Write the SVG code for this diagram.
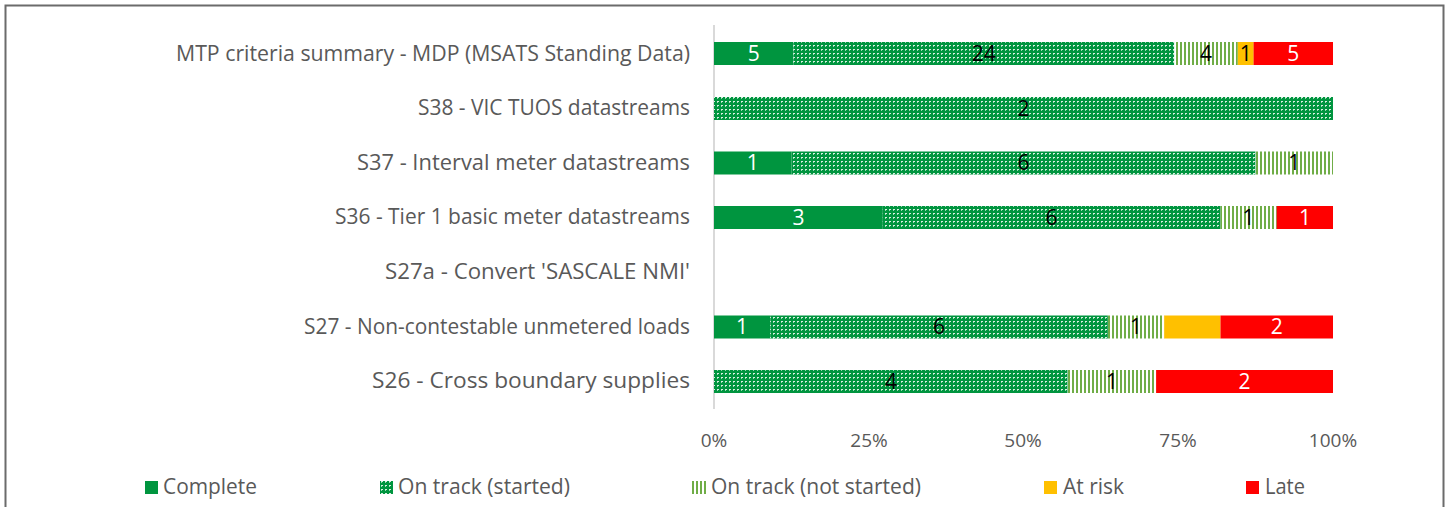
<svg xmlns="http://www.w3.org/2000/svg" width="1451" height="507" viewBox="0 0 1451 507">
<style>
.cat{font-family:"Open Sans","Liberation Sans",Arial,sans-serif;font-size:21px;fill:#595959;text-anchor:end}
.tick{font-family:"Open Sans","Liberation Sans",Arial,sans-serif;font-size:19px;fill:#595959;text-anchor:middle}
.leg{font-family:"Open Sans","Liberation Sans",Arial,sans-serif;font-size:21px;fill:#595959}
.dl{font-family:"Open Sans","Liberation Sans",Arial,sans-serif;font-size:21px;text-anchor:middle}
.dk{fill:#000}
.wh{fill:#fff}
.complete{fill:#00953F}
.started{fill:url(#dots)}
.notstarted{fill:url(#stripes)}
.risk{fill:#FFC000}
.late{fill:#FF0000}
</style>
<defs>
<pattern id="dots" width="4" height="4" patternUnits="userSpaceOnUse">
<rect width="4" height="4" fill="#00953F"/>
<rect x="1" y="1" width="2" height="1" fill="#ffffff" opacity="0.85"/>
<rect x="1" y="2" width="1" height="1" fill="#ffffff" opacity="0.6"/>
</pattern>
<pattern id="stripes" width="4" height="4" patternUnits="userSpaceOnUse">
<rect width="4" height="4" fill="#ffffff"/>
<rect x="0" y="0" width="2" height="4" fill="#70AD47"/>
</pattern>
</defs>
<rect x="0" y="0" width="1451" height="507" fill="#ffffff"/>
<rect x="5.5" y="5.5" width="1438" height="520" fill="none" stroke="#6b6b6b" stroke-width="2"/>

<g id="axis">
<line x1="714" y1="25" x2="714" y2="409" stroke="#d9d9d9" stroke-width="2"/>
<text class="tick" x="714" y="447">0%</text>
<text class="tick" x="869" y="447">25%</text>
<text class="tick" x="1023" y="447">50%</text>
<text class="tick" x="1178" y="447">75%</text>
<text class="tick" x="1333" y="447">100%</text>
</g>

<g id="categories">
<text class="cat" x="690" y="61" textLength="514" lengthAdjust="spacingAndGlyphs">MTP criteria summary - MDP (MSATS Standing Data)</text>
<text class="cat" x="690" y="115" textLength="272" lengthAdjust="spacingAndGlyphs">S38 - VIC TUOS datastreams</text>
<text class="cat" x="690" y="170" textLength="333" lengthAdjust="spacingAndGlyphs">S37 - Interval meter datastreams</text>
<text class="cat" x="690" y="224" textLength="355" lengthAdjust="spacingAndGlyphs">S36 - Tier 1 basic meter datastreams</text>
<text class="cat" x="690" y="279" textLength="305" lengthAdjust="spacingAndGlyphs">S27a - Convert 'SASCALE NMI'</text>
<text class="cat" x="690" y="334" textLength="386" lengthAdjust="spacingAndGlyphs">S27 - Non-contestable unmetered loads</text>
<text class="cat" x="690" y="388" textLength="318" lengthAdjust="spacingAndGlyphs">S26 - Cross boundary supplies</text>
</g>

<g id="row-mtp">
<rect class="complete" x="714" y="42" width="79.4" height="23"/>
<rect class="started" x="793.4" y="42" width="380.9" height="23"/>
<rect class="notstarted" x="1174.3" y="42" width="63.5" height="23"/>
<rect class="risk" x="1237.8" y="42" width="15.9" height="23"/>
<rect class="late" x="1253.6" y="42" width="79.4" height="23"/>
<text class="dl wh" x="753.7" y="61">5</text>
<text class="dl dk" x="983.8" y="61">24</text>
<text class="dl dk" x="1206" y="61">4</text>
<text class="dl dk" x="1245.7" y="61">1</text>
<text class="dl wh" x="1293.3" y="61">5</text>
</g>

<g id="row-s38">
<rect class="started" x="714" y="97" width="619" height="23"/>
<text class="dl dk" x="1023.5" y="115.5">2</text>
</g>

<g id="row-s37">
<rect class="complete" x="714" y="151.5" width="77.4" height="23"/>
<rect class="started" x="791.4" y="151.5" width="464.2" height="23"/>
<rect class="notstarted" x="1255.6" y="151.5" width="77.4" height="23"/>
<text class="dl wh" x="752.7" y="170">1</text>
<text class="dl dk" x="1023.5" y="170">6</text>
<text class="dl dk" x="1294.3" y="170">1</text>
</g>

<g id="row-s36">
<rect class="complete" x="714" y="206" width="168.8" height="23"/>
<rect class="started" x="882.8" y="206" width="337.7" height="23"/>
<rect class="notstarted" x="1220.5" y="206" width="56.3" height="23"/>
<rect class="late" x="1276.7" y="206" width="56.3" height="23"/>
<text class="dl wh" x="798.4" y="224.5">3</text>
<text class="dl dk" x="1051.6" y="224.5">6</text>
<text class="dl dk" x="1248.6" y="224.5">1</text>
<text class="dl wh" x="1304.9" y="224.5">1</text>
</g>

<g id="row-s27a"></g>

<g id="row-s27">
<rect class="complete" x="714" y="315.5" width="56.3" height="23"/>
<rect class="started" x="770.3" y="315.5" width="337.6" height="23"/>
<rect class="notstarted" x="1107.9" y="315.5" width="56.3" height="23"/>
<rect class="risk" x="1164.2" y="315.5" width="56.3" height="23"/>
<rect class="late" x="1220.5" y="315.5" width="112.5" height="23"/>
<text class="dl wh" x="742.1" y="334">1</text>
<text class="dl dk" x="939.1" y="334">6</text>
<text class="dl dk" x="1136" y="334">1</text>
<text class="dl wh" x="1276.7" y="334">2</text>
</g>

<g id="row-s26">
<rect class="started" x="714" y="370" width="353.7" height="23"/>
<rect class="notstarted" x="1067.7" y="370" width="88.4" height="23"/>
<rect class="late" x="1156.1" y="370" width="176.9" height="23"/>
<text class="dl dk" x="890.9" y="388.5">4</text>
<text class="dl dk" x="1111.9" y="388.5">1</text>
<text class="dl wh" x="1244.6" y="388.5">2</text>
</g>

<g id="legend">
<rect class="complete" x="145" y="481" width="13" height="13"/>
<text class="leg" x="163" y="494" textLength="94" lengthAdjust="spacingAndGlyphs">Complete</text>
<rect class="started" x="380" y="481" width="13" height="13"/>
<text class="leg" x="398" y="494" textLength="172" lengthAdjust="spacingAndGlyphs">On track (started)</text>
<rect class="notstarted" x="692" y="481" width="14" height="13"/>
<text class="leg" x="711" y="494" textLength="210" lengthAdjust="spacingAndGlyphs">On track (not started)</text>
<rect class="risk" x="1044" y="481" width="13" height="13"/>
<text class="leg" x="1063" y="494" textLength="61" lengthAdjust="spacingAndGlyphs">At risk</text>
<rect class="late" x="1246" y="481" width="13" height="13"/>
<text class="leg" x="1265" y="494" textLength="40" lengthAdjust="spacingAndGlyphs">Late</text>
</g>
</svg>
